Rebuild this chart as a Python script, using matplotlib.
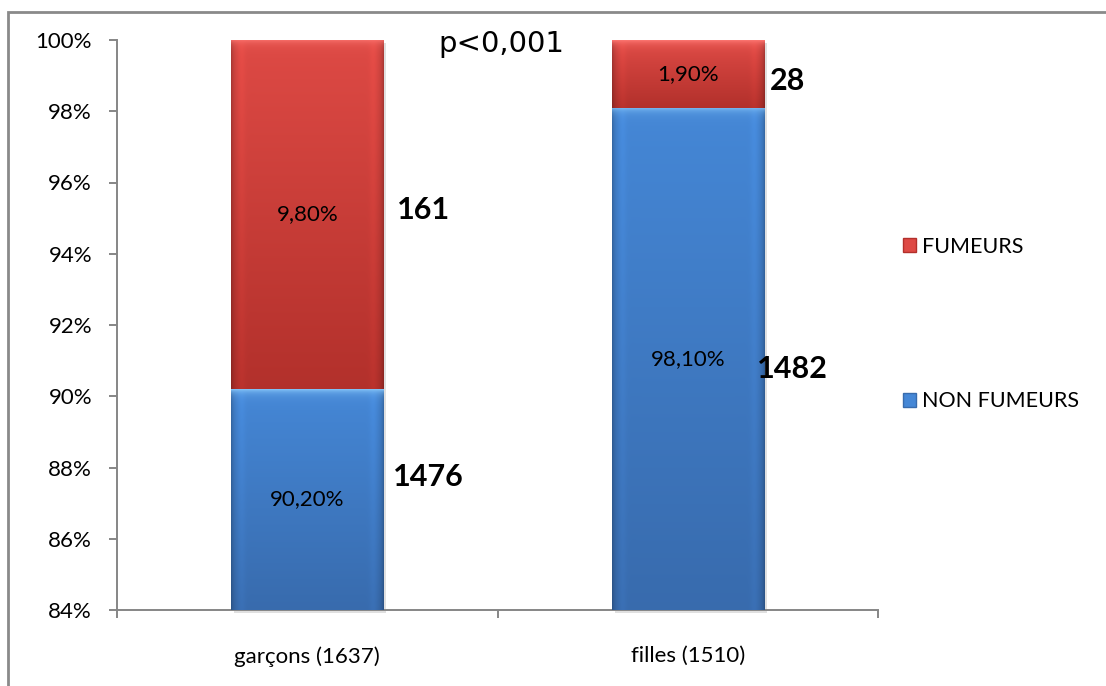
import numpy as np
import matplotlib
matplotlib.use("Agg")
import matplotlib.pyplot as plt
import matplotlib.transforms as mtransforms
from matplotlib.patches import Rectangle, Patch

plt.rcParams['font.family'] = ['Lato', 'DejaVu Sans']

# data
categories = ['garçons (1637)', 'filles (1510)']
non_fumeurs_pct = [90.2, 98.1]
fumeurs_pct = [9.8, 1.9]
non_fumeurs_n = [1476, 1482]
fumeurs_n = [161, 28]
series_labels = ['NON FUMEURS', 'FUMEURS']
y_ticks = [84, 86, 88, 90, 92, 94, 96, 98, 100]

# colours: (top, bottom, highlight)
blue = ((0.27, 0.53, 0.84), (0.22, 0.42, 0.68), (0.50, 0.75, 0.96))
red = ((0.87, 0.29, 0.27), (0.70, 0.19, 0.17), (0.98, 0.45, 0.43))

fig = plt.figure(figsize=(11.06, 6.86), dpi=100)
ax = fig.add_axes([117 / 1106, 76 / 686, (878 - 117) / 1106, (610 - 40) / 686])

x = np.arange(len(categories))
width = 0.4
ymin, ymax = 84, 100

b1 = ax.bar(x, non_fumeurs_pct, width, color=blue[0], zorder=2)
b2 = ax.bar(x, fumeurs_pct, width, bottom=non_fumeurs_pct, color=red[0], zorder=2)

ax.set_xlim(-0.5, 1.5)
ax.set_ylim(ymin, ymax)


def shaded(patch, cols):
    # bevel-like gradient laid over a bar segment
    x0, y0 = patch.get_x(), max(patch.get_y(), ymin)
    x1, y1 = x0 + patch.get_width(), min(patch.get_y() + patch.get_height(), ymax)
    p0 = ax.transData.transform((x0, y0))
    p1 = ax.transData.transform((x1, y1))
    nx = max(int(p1[0] - p0[0]), 2)
    ny = max(int(p1[1] - p0[1]), 2)
    top, bot, hi = (np.array(c) for c in cols)
    t = np.linspace(0, 1, ny)[:, None, None]
    img = top * (1 - t) + bot * t
    img = np.repeat(img, nx, axis=1)
    u = np.linspace(0, 1, nx)[None, :, None]
    d = np.minimum(u, 1 - u) * nx
    edge = 1 - 0.22 * np.exp(-d / 3.0) + 0.05 * np.exp(-((d - 10) / 4.0) ** 2)
    img = img * edge
    r = np.arange(ny)[:, None, None]
    if patch.get_y() + patch.get_height() <= ymax + 1e-9:
        w = np.exp(-r / 4.0)
        img = img * (1 - w) + hi * w
    img = np.clip(img, 0, 1)
    # soft shadow right and below
    sh = Rectangle((x0, y0), x1 - x0, y1 - y0, facecolor='#000000', alpha=0.12,
                   edgecolor='none', zorder=1,
                   transform=mtransforms.offset_copy(ax.transData, fig=fig, x=3, y=-3, units='dots'))
    sh.set_clip_on(False)
    ax.add_patch(sh)
    ax.imshow(img, extent=(x0, x1, y0, y1), origin='upper', aspect='auto',
              interpolation='bilinear', zorder=3)


for p in b1:
    shaded(p, blue)
for p in b2:
    shaded(p, red)
ax.set_xlim(-0.5, 1.5)
ax.set_ylim(ymin, ymax)

# percentage labels inside the visible part of each segment, counts beside
offsets = [(10, 23), (-7, -10)]
offsets_f = [(14, 5), (6, -7)]
for i in range(len(categories)):
    c_nf = (ymin + non_fumeurs_pct[i]) / 2
    c_f = non_fumeurs_pct[i] + fumeurs_pct[i] / 2
    ax.text(x[i], c_nf, f"{non_fumeurs_pct[i]:.2f}%".replace('.', ','), ha='center', va='center',
            fontsize=16, zorder=5)
    ax.text(x[i], c_f, f"{fumeurs_pct[i]:.2f}%".replace('.', ','), ha='center', va='center',
            fontsize=16, zorder=5)
    ax.annotate(str(non_fumeurs_n[i]), (x[i] + width / 2, c_nf), xytext=offsets[i],
                textcoords='offset pixels', ha='left', va='center', fontsize=22,
                fontweight='bold', zorder=5)
    ax.annotate(str(fumeurs_n[i]), (x[i] + width / 2, c_f), xytext=offsets_f[i],
                textcoords='offset pixels', ha='left', va='center', fontsize=22,
                fontweight='bold', zorder=5)

# axes styling
for s in ['top', 'right']:
    ax.spines[s].set_visible(False)
for s in ['left', 'bottom']:
    ax.spines[s].set_color('#868686')
    ax.spines[s].set_linewidth(1.4)
ax.set_yticks(y_ticks)
ax.set_yticklabels([f"{v}%" for v in y_ticks])
ax.tick_params(axis='y', direction='out', length=6, width=1.4, color='#868686', labelsize=16, pad=12)
ax.set_xticks(x)
ax.set_xticklabels(categories)
ax.set_xticks([-0.5, 0.5, 1.5], minor=True)
ax.tick_params(axis='x', which='major', length=0, labelsize=16, pad=26)
ax.tick_params(axis='x', which='minor', direction='out', length=6, width=1.4, color='#868686')

handles = [Patch(facecolor=red[0], edgecolor=red[1]), Patch(facecolor=blue[0], edgecolor=blue[1])]
fig.legend(handles, [series_labels[1], series_labels[0]], loc='upper left',
           bbox_to_anchor=(892 / 1106, 1 - 226 / 686), frameon=False, fontsize=15.5,
           handlelength=0.6, handleheight=0.6, handletextpad=0.3, labelspacing=6.25,
           borderpad=0)

fig.text(501 / 1106, 1 - 44 / 686, 'p<0,001', ha='center', va='center', fontsize=21,
         family='DejaVu Sans')

fig.patches.append(Rectangle((8 / 1106, -0.05), 1.0, 1 - 12 / 686 + 0.05, transform=fig.transFigure,
                             fill=False, edgecolor='#8a8a8a', linewidth=2))

fig.savefig('out.png', dpi=100)
